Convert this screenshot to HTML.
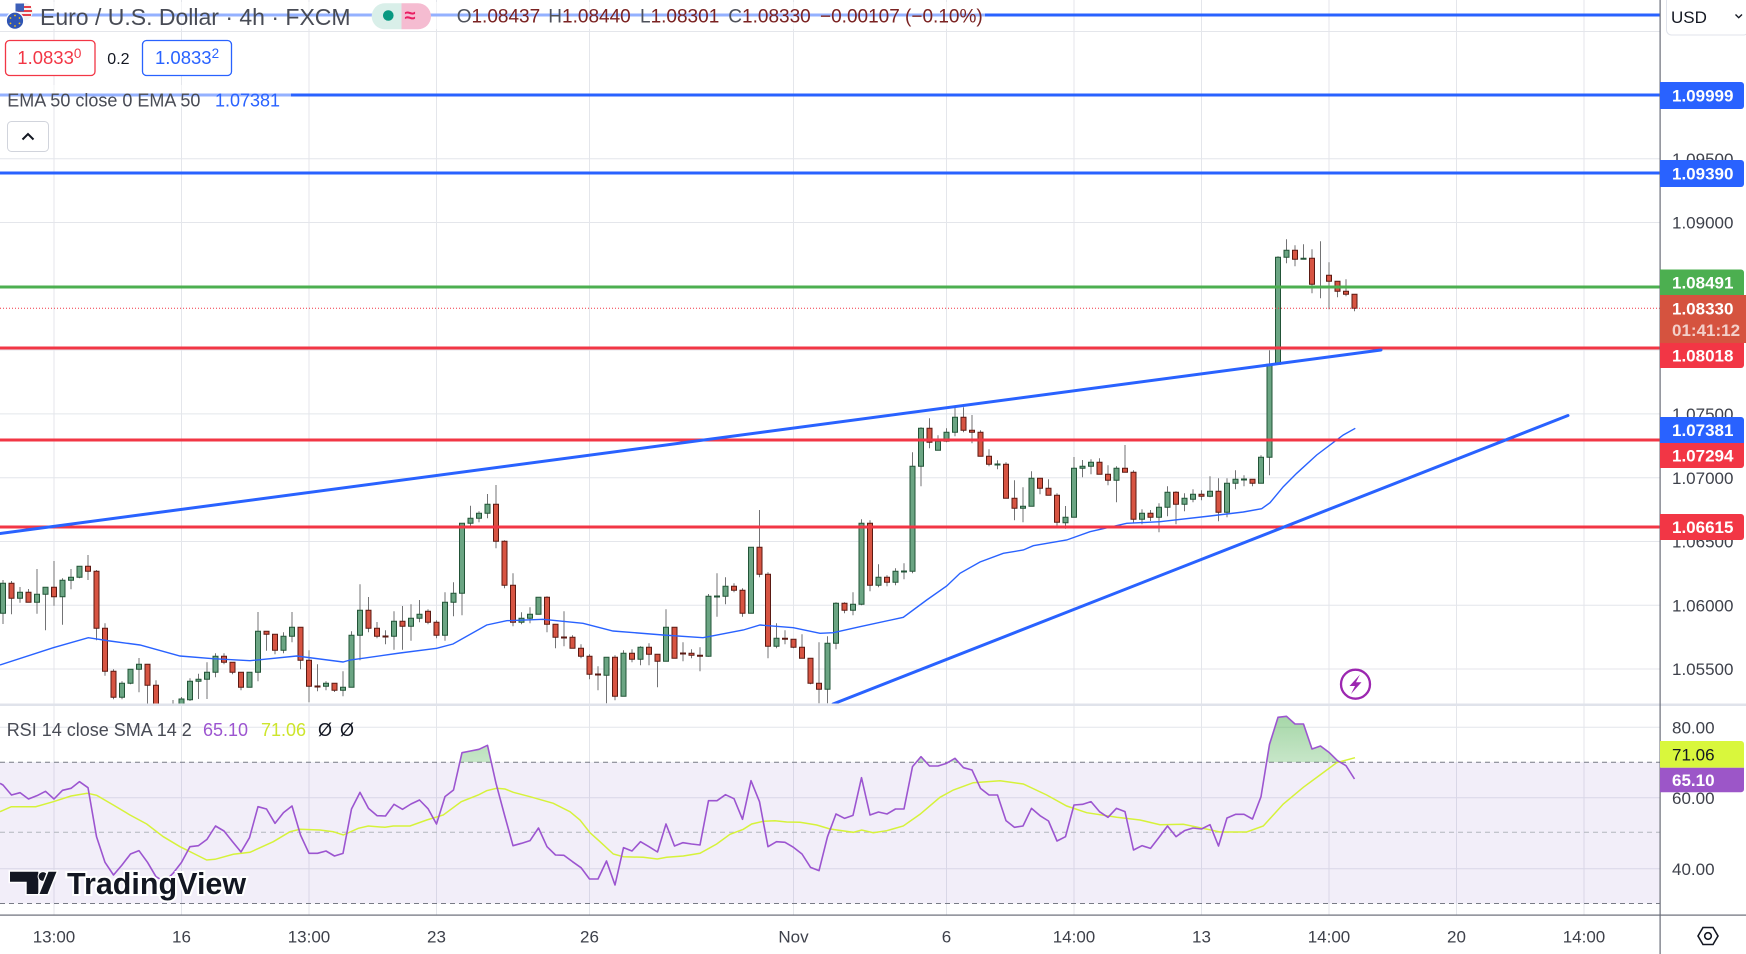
<!DOCTYPE html>
<html><head><meta charset="utf-8"><style>
html,body{margin:0;padding:0;background:#fff;overflow:hidden;width:1746px;height:954px}
svg{display:block;font-family:"Liberation Sans",sans-serif}
</style></head><body>
<svg width="1746" height="954" viewBox="0 0 1746 954" xmlns="http://www.w3.org/2000/svg">
<defs>
<clipPath id="mainc"><rect x="0" y="0" width="1660" height="704"/></clipPath>
<clipPath id="rsic"><rect x="0" y="706" width="1660" height="209"/></clipPath>
<clipPath id="above"><rect x="0" y="700" width="1660" height="62.3"/></clipPath>
<linearGradient id="gg" x1="0" y1="0" x2="0" y2="1"><stop offset="0" stop-color="#4caf50" stop-opacity="0.5"/><stop offset="0.55" stop-color="#4caf50" stop-opacity="0.12"/><stop offset="1" stop-color="#4caf50" stop-opacity="0"/></linearGradient>
</defs>
<rect width="1746" height="954" fill="#fff"/>
<!-- grid main -->
<g stroke="#e4e6eb" stroke-width="1">
<path d="M0 31.5H1660M0 158.7H1660M0 222.5H1660M0 286.3H1660M0 350H1660M0 413.9H1660M0 477.7H1660M0 541.5H1660M0 605.3H1660M0 669H1660"/>
<path d="M0 727.3H1660M0 797.7H1660M0 868.7H1660"/>
<path d="M54 0V915M181.5 0V915M309 0V915M436.5 0V915M589.5 0V915M793.5 0V915M946.5 0V915M1074 0V915M1201.5 0V915M1329 0V915M1456.5 0V915M1584 0V915"/>
</g>
<!-- RSI band -->
<rect x="0" y="762.3" width="1660" height="141.2" fill="#7e57c2" fill-opacity="0.1"/>
<g stroke-width="1" stroke-dasharray="5 4">
<path d="M0 762.3H1660M0 903.5H1660" stroke="#787b86"/>
<path d="M0 832.3H1660" stroke="#b2b5be"/>
</g>
<!-- main pane -->
<g clip-path="url(#mainc)">
<path fill="none" stroke="#737375" stroke-width="1" d="M3 580V624M11.5 581V614.3M20 587V602.7M28.5 589V602.3M37 569V613.7M45.5 587.3V630.3M54 561V605.7M62.5 578.3V624.7M71 569V589.3M79.5 566.3V578.3M88 555V580M96.5 570V640.3M105 623.3V675.7M113.5 669.3V699.3M122 681.3V699.3M130.5 669.3V684.3M139 658V692.3M147.5 664.3V708M156 680.3V715M164.5 704V720M173 700V715M181.5 697V712M190 678.3V701M198.5 673.7V699M207 662.3V699M215.5 653.3V677.3M224 653.3V664.3M232.5 662V674.3M241 672V690.3M249.5 672.3V687.3M258 612V681.3M266.5 631V650.7M275 634V654.3M283.5 632.3V653.3M292 612V642.3M300.5 627V669.3M309 650.3V702.3M317.5 664.3V691.3M326 681.3V690.3M334.5 683V692M343 671.3V696.3M351.5 631.3V687.3M360 584.3V660.3M368.5 597V632.3M377 622V638.3M385.5 630.3V644.3M394 611.3V649.7M402.5 606V649.7M411 604.3V640.7M419.5 600V622.3M428 609.3V624.3M436.5 620.3V638.3M445 592.3V640.7M453.5 582.3V616.3M462 523.3V615.3M470.5 505.7V528.3M479 511.3V522.3M487.5 494V518.3M496 485V548.3M504.5 540.3V588.3M513 573.3V626.3M521.5 612.3V624.3M530 607.3V623.3M538.5 597V614.3M547 596.3V632.3M555.5 624.3V648.3M564 611.3V646.3M572.5 635.3V648.3M581 644.3V658.3M589.5 654.3V679.3M598 666.3V690.3M606.5 657.3V703.3M615 655.3V700.3M623.5 650.3V696.3M632 649.3V662.3M640.5 646.3V665.3M649 643.3V665.3M657.5 654.3V687.3M666 609.3V661.3M674.5 627.3V658.3M683 642.3V661.3M691.5 649.3V658.3M700 647.3V671.3M708.5 594V656.7M717 573.3V616.7M725.5 577.3V604.3M734 583.3V592.3M742.5 588.3V616.7M751 547.3V613.3M759.5 510V577.3M768 572.3V658.3M776.5 623.3V648.3M785 630.3V644.3M793.5 639.3V648.3M802 634.3V658.3M810.5 658.3V684.3M819 642.3V703.3M827.5 636.3V703.3M836 602.3V649.3M844.5 602.3V613.3M853 592.3V615.3M861.5 519.3V605.3M870 520.3V591.3M878.5 564.3V587.3M887 575.3V586.3M895.5 568.3V585.3M904 563.3V579.3M912.5 452.3V573.3M921 427.3V486.3M929.5 418.3V448.3M938 435.3V450.3M946.5 428.3V442.3M955 407.3V436.3M963.5 407.3V432.3M972 415V443.3M980.5 430.3V456.3M989 449.3V466.3M997.5 460.3V469.3M1006 462.3V498.3M1014.5 480.3V520.3M1023 487.3V522.3M1031.5 471.3V506.3M1040 478V494.3M1048.5 479.3V495.3M1057 493.3V527.3M1065.5 506V528.7M1074 457V517.3M1082.5 460V477.3M1091 459.3V474.3M1099.5 458.3V474.3M1108 465.3V485.3M1116.5 466.3V502.3M1125 445V472.3M1133.5 470.3V523.3M1142 509.3V524.3M1150.5 510V521M1159 503.3V532.3M1167.5 486.3V516.3M1176 491.3V524.3M1184.5 493.3V511.3M1193 489.3V502.3M1201.5 490.3V500.3M1210 476.3V497.3M1218.5 478.3V521.3M1227 478.3V517.3M1235.5 470.3V489.3M1244 475.3V486.3M1252.5 479.3V486.3M1261 455.3V483.3M1269.5 350.3V475.3M1278 256.3V364.3M1286.5 239.3V263.3M1295 245.3V266.3M1303.5 244.3V259.3M1312 249.3V293.3M1320.5 241.3V298.3M1329 262.3V309.3M1337.5 281.3V297.3M1346 279.3V296.3M1354.5 294.3V311.3"/>
<path fill="#6ba583" stroke="#225437" stroke-width="1" d="M0.5 583.3h5v30h-5zM17.5 592.3h5v6h-5zM34.5 594.3h5v8h-5zM43 587.3h5v7h-5zM60 580.3h5v16.4h-5zM68.5 577.3h5v3h-5zM77 566.3h5v11h-5zM119.5 683.3h5v14h-5zM128 669.3h5v14h-5zM136.5 664.3h5v5h-5zM170.5 706h5v6h-5zM179 699h5v11h-5zM187.5 681.3h5v18.4h-5zM196 679.3h5v2h-5zM204.5 672.3h5v7h-5zM213 656.3h5v16h-5zM247 672.3h5v15h-5zM255.5 631.3h5v41h-5zM281 636.3h5v14h-5zM289.5 627.3h5v9h-5zM323.5 683.3h5v3h-5zM340.5 687.3h5v3h-5zM349 635.3h5v52h-5zM357.5 610.3h5v25h-5zM391.5 621.3h5v15h-5zM408.5 618.3h5v8h-5zM417 614.3h5v4h-5zM442.5 602.3h5v33h-5zM451 593.3h5v9h-5zM459.5 523.3h5v70h-5zM468 518.3h5v5h-5zM476.5 513.3h5v5h-5zM485 504.3h5v9h-5zM519 618.3h5v4h-5zM527.5 614.3h5v4h-5zM536 597.3h5v17h-5zM604 657.3h5v18h-5zM621 653.3h5v43h-5zM638 647.3h5v12h-5zM663.5 627.3h5v34h-5zM706 596.3h5v60h-5zM714.5 596h5v1h-5zM723 586.3h5v10h-5zM748.5 547.3h5v66h-5zM774 638.3h5v8h-5zM825 643.3h5v46h-5zM833.5 603.3h5v40h-5zM850.5 604.3h5v6h-5zM859 523.3h5v81h-5zM876 577.3h5v8h-5zM893 571.3h5v11h-5zM901.5 571h5v1h-5zM910 466.3h5v105h-5zM918.5 428.3h5v38h-5zM935.5 441.3h5v9h-5zM944 432.3h5v9h-5zM952.5 417.3h5v15h-5zM995 464h5v1h-5zM1020.5 506.3h5v2h-5zM1029 478.3h5v28h-5zM1063 517.3h5v5.4h-5zM1071.5 468.3h5v49h-5zM1080 466.3h5v2h-5zM1088.5 462.3h5v4h-5zM1114 468.3h5v12h-5zM1139.5 513.3h5v6h-5zM1156.5 507.3h5v10h-5zM1165 492.3h5v15h-5zM1182 498.3h5v6h-5zM1190.5 494.3h5v5h-5zM1207.5 491.3h5v5h-5zM1224.5 483.3h5v29h-5zM1233 479.3h5v4h-5zM1241.5 479h5v1h-5zM1258.5 457.3h5v26h-5zM1267 364.3h5v93h-5zM1275.5 257.3h5v107h-5zM1284 250.3h5v7h-5zM1301 258.3h5v1h-5z"/>
<path fill="#d75442" stroke="#5b1a13" stroke-width="1" d="M9 583.3h5v15h-5zM26 592.3h5v10h-5zM51.5 587.3h5v9.4h-5zM85.5 566.3h5v5h-5zM94 571.3h5v57h-5zM102.5 628.3h5v43h-5zM111 671.3h5v26h-5zM145 664.3h5v21h-5zM153.5 685.3h5v27h-5zM162 708h5v8h-5zM221.5 656.3h5v6h-5zM230 662.3h5v10h-5zM238.5 672.3h5v15h-5zM264 631.3h5v3h-5zM272.5 634.3h5v16h-5zM298 627.3h5v33h-5zM306.5 660.3h5v26h-5zM315 686h5v1h-5zM332 683.3h5v7h-5zM366 610.3h5v18h-5zM374.5 628.3h5v8h-5zM383 636h5v1h-5zM400 621.3h5v5h-5zM425.5 611.3h5v11h-5zM434 622.3h5v13h-5zM493.5 504.3h5v37h-5zM502 541.3h5v44h-5zM510.5 585.3h5v37h-5zM544.5 597.3h5v27h-5zM553 624.3h5v13h-5zM561.5 637h5v1h-5zM570 637.3h5v11h-5zM578.5 648.3h5v8h-5zM587 656.3h5v18h-5zM595.5 674h5v1h-5zM612.5 657.3h5v39h-5zM629.5 653.3h5v6h-5zM646.5 647.3h5v7h-5zM655 654.3h5v7h-5zM672 627.3h5v31h-5zM680.5 653h5v1h-5zM689 653.3h5v2h-5zM697.5 655.3h5v1h-5zM731.5 586.3h5v4h-5zM740 590.3h5v23h-5zM757 547.3h5v27h-5zM765.5 574.3h5v72h-5zM782.5 638.3h5v1h-5zM791 639.3h5v8h-5zM799.5 647.3h5v11h-5zM808 658.3h5v25h-5zM816.5 683.3h5v6h-5zM842 603.3h5v7h-5zM867.5 523.3h5v62h-5zM884.5 577.3h5v5h-5zM927 428.3h5v14h-5zM961 417.3h5v13h-5zM969.5 430.3h5v2h-5zM978 432.3h5v24h-5zM986.5 456.3h5v8h-5zM1003.5 464.3h5v34h-5zM1012 498.3h5v10h-5zM1037.5 478.3h5v10h-5zM1046 488.3h5v7h-5zM1054.5 495.3h5v27h-5zM1097 462.3h5v12h-5zM1105.5 474.3h5v6h-5zM1122.5 468.3h5v4h-5zM1131 472.3h5v47h-5zM1148 513.3h5v4h-5zM1173.5 492.3h5v12h-5zM1199 494.3h5v2h-5zM1216 491.3h5v21h-5zM1250 479.3h5v4h-5zM1292.5 250.3h5v9h-5zM1309.5 258.3h5v26h-5zM1326.5 275.3h5v6h-5zM1335 281.3h5v10h-5zM1343.5 291.3h5v3h-5zM1352 294.3h5v14h-5z"/>
<!-- EMA 50 -->
<polyline fill="none" stroke="#2962ff" stroke-width="1.4" points="0,665 53.3,647.7 88.3,637.7 110,641 140,645 180,656 213,658.7 250,660.7 296.7,656 343,662 350,660 360,658.7 400,653 436.7,648.3 453,644 486.7,625 506.7,620.7 543,619.3 583,623.3 613,631 663,635 703,637.7 743.3,630 760,625 793.3,627.7 820,633.3 833.3,632.7 860,626.7 903.3,617.3 926.7,600 946.7,586 960,573.3 980,562 1003.3,553.3 1023.3,550 1033.3,545.7 1066.7,540 1090,531.7 1126.7,523.3 1160,521.7 1210,516 1243.3,512 1261.7,508.7 1270,502.7 1283.3,486.7 1296.7,473.3 1316.7,455 1343.3,435 1355.3,428.3"/>
<!-- current price -->
<path d="M0 308.3H1660" stroke="#f23645" stroke-width="1" stroke-dasharray="1 2"/>
<!-- horizontal levels -->
<g stroke-width="3">
<path d="M0 15H1660M0 95H1660M0 173H1660" stroke="#2962ff"/>
<path d="M0 287H1660" stroke="#4caf50"/>
<path d="M0 348H1660M0 440H1660M0 527H1660" stroke="#f23645"/>
</g>
<!-- trendlines -->
<g stroke="#2962ff" stroke-width="3" stroke-linecap="round">
<path d="M0 533.5L1381 350"/>
<path d="M833 704L1568 415.5"/>
</g>
</g>
<!-- legend veils -->
<rect x="0" y="2" width="985" height="27" fill="#fff" fill-opacity="0.5"/>
<rect x="0" y="85" width="291" height="22" fill="#fff" fill-opacity="0.5"/>
<!-- lightning icon -->
<circle cx="1355.5" cy="684.2" r="14.5" fill="#fff" stroke="#9c27b0" stroke-width="2.3"/>
<path d="M1360 674.5L1349.5 686H1355L1351 694L1361.5 682.3H1356L1360 674.5Z" fill="#9c27b0"/>
<!-- pane separators -->
<rect x="0" y="703.5" width="1746" height="2.5" fill="#e0e3eb"/>
<!-- RSI -->
<g clip-path="url(#rsic)">
<g clip-path="url(#above)">
<polygon transform="translate(3,700) scale(8.5,0.333333)" fill="url(#gg)" points="-0.35,250 0,255 1,285 2,278 3,297 4,287 5,274 6,297 7,271 8,265 9,245 10,263 11,410 12,487 13,525 14,495 15,462 16,452 17,487 18,530 19,545 20,520 21,487 22,440 23,437 24,418 25,378 26,393 27,425 28,456 29,413 30,320 31,327 32,370 33,338 34,318 35,405 36,460 37,460 38,453 39,468 40,460 41,327 42,277 43,325 44,347 45,348 46,313 47,328 48,312 49,300 50,326 51,372 52,290 53,270 54,158 55,153 56,148 57,136 58,250 59,345 60,437 61,430 62,422 63,384 64,440 65,465 66,466 67,485 68,503 69,537 70,537 71,483 72,555 73,443 74,453 75,425 76,440 77,456 78,372 79,438 80,428 81,432 82,435 83,302 84,302 85,284 86,296 87,358 88,242 89,305 90,440 91,425 92,427 93,442 94,462 95,502 96,512 97,410 98,342 99,355 100,346 101,233 102,345 103,336 104,342 105,327 106,327 107,200 108,170 109,198 110,198 111,190 112,175 113,203 114,210 115,265 116,285 117,285 118,362 119,382 120,378 121,325 122,347 123,363 124,423 125,410 126,315 127,313 128,305 129,335 130,352 131,325 132,335 133,450 134,437 135,445 136,412 137,378 138,410 139,392 140,384 141,387 142,374 143,438 144,354 145,343 146,343 147,357 148,290 149,133 150,52 151,49 152,72 153,72 154,147 155,138 156,157 157,182 158,197 159,237 159,187 -0.35,187"/>
</g>
<polyline fill="none" stroke="#d6f23a" stroke-width="1.5" points="0,811.7 11.3,806.7 35.7,806.7 53.3,801.7 71,796 87.3,793.3 96.7,795.3 113.3,805 130,815 146.7,824 163.3,836.7 180,846.7 196.7,855 206.7,860 215,859.3 233.3,854.3 250,852.3 273.3,841.7 290,831.7 300,829.3 320,830 333.3,831.7 343.3,835 358.3,828.3 368.3,826 385,827.3 393.3,826 410,826 426.7,820 443.3,815 461.3,801.7 478.3,795 486.7,790.7 496.7,788.3 505,789 513.3,792.3 530,796.7 553.3,803.3 570,811.7 580,820 590,832.7 600,841.7 613.3,854 623.3,856.7 643.3,857.3 657.3,859 666.7,857.3 683.3,856 700,853.3 716.7,844 730,834.3 743.3,829.3 751.7,824 763.3,821.3 775,820.7 786.7,822 800,822.3 816.7,825 830,829 853.3,832.3 861.7,830 873.3,832.7 886.7,830.7 903.3,826 920,814.3 940,797.3 953.3,790 973.3,782.7 1000,780.7 1023.3,784 1046.7,795 1066.7,806 1086.7,812.7 1116.7,817.3 1140,820 1160,824.7 1183.3,824.3 1200,827.7 1220,832 1246.7,832 1263.3,826 1283.3,804 1303.3,787.3 1320,775 1336.7,762.7 1355,757.7"/>
<polyline transform="translate(3,700) scale(8.5,0.333333)" fill="none" stroke="#9c55d0" stroke-width="1.6" vector-effect="non-scaling-stroke" stroke-linejoin="round" points="-0.35,250 0,255 1,285 2,278 3,297 4,287 5,274 6,297 7,271 8,265 9,245 10,263 11,410 12,487 13,525 14,495 15,462 16,452 17,487 18,530 19,545 20,520 21,487 22,440 23,437 24,418 25,378 26,393 27,425 28,456 29,413 30,320 31,327 32,370 33,338 34,318 35,405 36,460 37,460 38,453 39,468 40,460 41,327 42,277 43,325 44,347 45,348 46,313 47,328 48,312 49,300 50,326 51,372 52,290 53,270 54,158 55,153 56,148 57,136 58,250 59,345 60,437 61,430 62,422 63,384 64,440 65,465 66,466 67,485 68,503 69,537 70,537 71,483 72,555 73,443 74,453 75,425 76,440 77,456 78,372 79,438 80,428 81,432 82,435 83,302 84,302 85,284 86,296 87,358 88,242 89,305 90,440 91,425 92,427 93,442 94,462 95,502 96,512 97,410 98,342 99,355 100,346 101,233 102,345 103,336 104,342 105,327 106,327 107,200 108,170 109,198 110,198 111,190 112,175 113,203 114,210 115,265 116,285 117,285 118,362 119,382 120,378 121,325 122,347 123,363 124,423 125,410 126,315 127,313 128,305 129,335 130,352 131,325 132,335 133,450 134,437 135,445 136,412 137,378 138,410 139,392 140,384 141,387 142,374 143,438 144,354 145,343 146,343 147,357 148,290 149,133 150,52 151,49 152,72 153,72 154,147 155,138 156,157 157,182 158,197 159,237"/>
</g>
<!-- TradingView logo -->
<g>
<path d="M10 871.7H38.3V894H26.7V881.7H10Z" fill="#131722" stroke="#fff" stroke-width="3" paint-order="stroke"/>
<circle cx="43" cy="876.5" r="4.4" fill="#131722" stroke="#fff" stroke-width="2" paint-order="stroke"/>
<path d="M48.5 871.7H56.5L47.5 894H39.5Z" fill="#131722" stroke="#fff" stroke-width="3" paint-order="stroke"/>
<text x="67" y="894" font-size="30.5" font-weight="bold" fill="#131722" stroke="#fff" stroke-width="4" paint-order="stroke">TradingView</text>
</g>
<!-- axes borders -->
<rect x="0" y="914.5" width="1746" height="1.2" fill="#6a6d78"/>
<rect x="1659.5" y="0" width="1.2" height="954" fill="#6a6d78"/>
<rect x="1661" y="0" width="85" height="914" fill="#fff"/>
<rect x="1661" y="916" width="85" height="38" fill="#fff"/>
<rect x="1661" y="703.5" width="85" height="2.5" fill="#e0e3eb"/>
<!-- header legend -->
<g>
<circle cx="24" cy="11.7" r="8.7" fill="#f3f3f3"/>
<path d="M17 7h14M16 11h16M17 15h14" stroke="#e5404a" stroke-width="2"/>
<path d="M15.5 3.5h8.5v8h-8.5z" fill="#3c5fb8"/>
<circle cx="15" cy="20.7" r="8.7" fill="#2f55b5" stroke="#fff" stroke-width="1.2"/>
<g fill="#f5c518"><circle cx="15" cy="15.5" r="0.9"/><circle cx="19.5" cy="18" r="0.9"/><circle cx="19.5" cy="23.4" r="0.9"/><circle cx="15" cy="26" r="0.9"/><circle cx="10.5" cy="23.4" r="0.9"/><circle cx="10.5" cy="18" r="0.9"/></g>
<text x="40" y="25" font-size="23" fill="#484b55">Euro / U.S. Dollar · 4h · FXCM</text>
<path d="M384.7 3.3H401.5V29.3H384.7A13 13 0 0 1 384.7 3.3Z" fill="#d9efe9"/>
<path d="M401.5 3.3H418A13 13 0 0 1 418 29.3H401.5Z" fill="#f5bcd1"/>
<circle cx="388.3" cy="15.5" r="5.3" fill="#089981"/>
<text x="410" y="22" font-size="20" font-weight="bold" fill="#e91e63" text-anchor="middle">≈</text>
<g font-size="19">
<text x="456.7" y="22.7"><tspan fill="#4e515b">O</tspan><tspan fill="#7a2222">1.08437</tspan></text>
<text x="548.3" y="22.7"><tspan fill="#4e515b">H</tspan><tspan fill="#7a2222">1.08440</tspan></text>
<text x="640" y="22.7"><tspan fill="#4e515b">L</tspan><tspan fill="#7a2222">1.08301</tspan></text>
<text x="728.3" y="22.7"><tspan fill="#4e515b">C</tspan><tspan fill="#7a2222">1.08330</tspan></text>
<text x="820" y="22.7" fill="#7a2222">−0.00107 (−0.10%)</text>
</g>
<rect x="5.5" y="40.5" width="89.5" height="35" rx="4" fill="#fff" stroke="#f23645" stroke-width="1.3"/>
<text x="17.3" y="64" font-size="18.5" fill="#f23645">1.0833<tspan font-size="13.5" dy="-6">0</tspan></text>
<text x="107.3" y="64" font-size="16" fill="#131722">0.2</text>
<rect x="142.5" y="40.5" width="89" height="35" rx="4" fill="#fff" stroke="#2962ff" stroke-width="1.3"/>
<text x="155" y="64" font-size="18.5" fill="#2962ff">1.0833<tspan font-size="13.5" dy="-6">2</tspan></text>
<text x="7.3" y="106.7" font-size="18" fill="#484b55">EMA 50 close 0 EMA 50</text>
<text x="215" y="106.7" font-size="18" fill="#2962ff">1.07381</text>
<rect x="7.5" y="121.5" width="41" height="30" rx="4" fill="#fff" stroke="#d1d4dc" stroke-width="1"/>
<polyline points="22.5,139.5 28,134 33.5,139.5" fill="none" stroke="#131722" stroke-width="2"/>
<!-- RSI legend -->
<text x="6.7" y="736" font-size="18" fill="#484b55">RSI 14 close SMA 14 2</text>
<text x="203" y="736" font-size="18" fill="#9c55d0">65.10</text>
<text x="261" y="736" font-size="18" fill="#cde52c">71.06</text>
<text x="318" y="736" font-size="18" fill="#131722">Ø</text>
<text x="340" y="736" font-size="18" fill="#131722">Ø</text>
</g>
<!-- price axis -->
<g font-size="17" fill="#3e414b">
<text x="1672" y="164.9">1.09500</text>
<text x="1672" y="228.7">1.09000</text>
<text x="1672" y="420.1">1.07500</text>
<text x="1672" y="483.9">1.07000</text>
<text x="1672" y="547.7">1.06500</text>
<text x="1672" y="611.5">1.06000</text>
<text x="1672" y="675.2">1.05500</text>
<text x="1672" y="733.5">80.00</text>
<text x="1672" y="803.9">60.00</text>
<text x="1672" y="874.9">40.00</text>
</g>
<g font-size="17" font-weight="bold" fill="#fff">
<path d="M1660 82H1741a3 3 0 0 1 3 3V106a3 3 0 0 1 -3 3H1660Z" fill="#2962ff"/>
<text x="1672" y="101.7">1.09999</text>
<path d="M1660 160H1741a3 3 0 0 1 3 3V184a3 3 0 0 1 -3 3H1660Z" fill="#2962ff"/>
<text x="1672" y="179.7">1.09390</text>
<path d="M1660 269.5H1741a3 3 0 0 1 3 3V295H1660Z" fill="#4caf50"/>
<text x="1672" y="288.4">1.08491</text>
<rect x="1660" y="295" width="86" height="48" fill="#d5533f"/>
<text x="1672" y="314.5">1.08330</text>
<text x="1672" y="336.2" fill="#fff" fill-opacity="0.72">01:41:12</text>
<path d="M1660 343H1744V365a3 3 0 0 1 -3 3H1660Z" fill="#f23645"/>
<text x="1672" y="361.7">1.08018</text>
<path d="M1660 417H1741a3 3 0 0 1 3 3V443H1660Z" fill="#2962ff"/>
<text x="1672" y="436.2">1.07381</text>
<path d="M1660 443H1744V465a3 3 0 0 1 -3 3H1660Z" fill="#f23645"/>
<text x="1672" y="461.7">1.07294</text>
<path d="M1660 514H1741a3 3 0 0 1 3 3V537a3 3 0 0 1 -3 3H1660Z" fill="#f23645"/>
<text x="1672" y="533.2">1.06615</text>
<path d="M1660 741H1741a3 3 0 0 1 3 3V767.7H1660Z" fill="#d9f73c"/>
<text x="1672" y="760.6" fill="#131722" font-weight="normal">71.06</text>
<path d="M1660 767.7H1744V789.3a3 3 0 0 1 -3 3H1660Z" fill="#9c56c8"/>
<text x="1672" y="786.2">65.10</text>
</g>
<rect x="1666.5" y="-4" width="82" height="39" rx="5" fill="#fff" stroke="#e0e3eb" stroke-width="1"/>
<text x="1671" y="23" font-size="17" fill="#131722">USD</text>
<polyline points="1735.5,14.5 1738.7,17.7 1742,14.5" fill="none" stroke="#131722" stroke-width="1.4"/>
<!-- time axis -->
<g font-size="17" fill="#3e414b" text-anchor="middle">
<text x="54" y="942.7">13:00</text>
<text x="181.5" y="942.7">16</text>
<text x="309" y="942.7">13:00</text>
<text x="436.5" y="942.7">23</text>
<text x="589.5" y="942.7">26</text>
<text x="793.5" y="942.7">Nov</text>
<text x="946.5" y="942.7">6</text>
<text x="1074" y="942.7">14:00</text>
<text x="1201.5" y="942.7">13</text>
<text x="1329" y="942.7">14:00</text>
<text x="1456.5" y="942.7">20</text>
<text x="1584" y="942.7">14:00</text>
</g>
<polygon points="1698,936 1703,927.5 1713,927.5 1718,936 1713,944.5 1703,944.5" fill="none" stroke="#131722" stroke-width="1.6"/>
<circle cx="1708" cy="936" r="3.3" fill="none" stroke="#131722" stroke-width="1.6"/>
</svg>
</body></html>
